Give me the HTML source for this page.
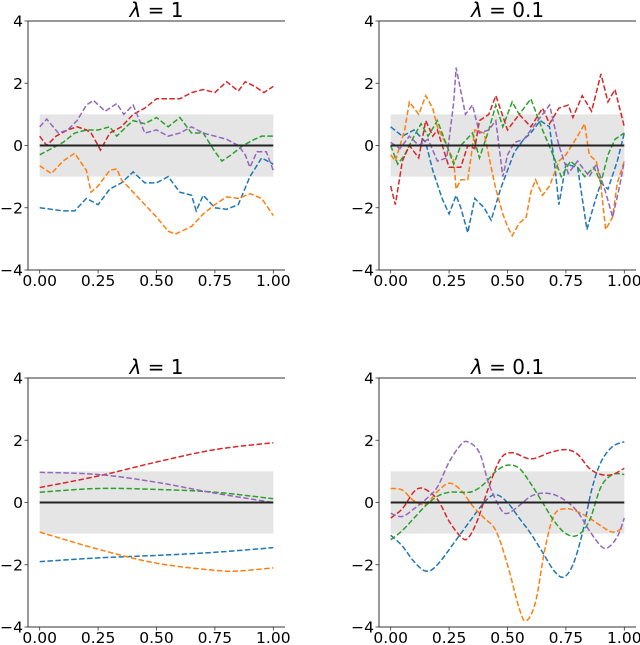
<!DOCTYPE html>
<html><head><meta charset="utf-8"><style>
body{margin:0;background:#fff;}
svg{display:block;font-family:"DejaVu Sans","Liberation Sans",sans-serif;}
</style></head><body>
<svg id="fig" width="640" height="645" viewBox="0 0 640 645" xmlns="http://www.w3.org/2000/svg"></svg>
<script>
// ---- data ----
const colors = ["#1f77b4","#ff7f0e","#2ca02c","#d62728","#9467bd"];
const seriesNames = ["blue","orange","green","red","purple"];
const yTicks = [-4,-2,0,2,4];
const yTickLabels = ["\u22124","\u22122","0","2","4"];
const xTicks = [0,0.25,0.5,0.75,1];
const xTickLabels = ["0.00","0.25","0.50","0.75","1.00"];
const titleValues = ["1","0.1","1","0.1"];

// panel 1 (rough, lambda=1): [t, value] pairs
const p1Blue = [[0,-2],[0.05,-2.05],[0.1,-2.1],[0.15,-2.1],[0.2,-1.7],[0.25,-1.9],[0.3,-1.4],[0.35,-1.2],[0.4,-0.85],[0.45,-1.2],[0.5,-1.2],[0.55,-1.0],[0.6,-1.5],[0.65,-1.6],[0.67,-2.1],[0.7,-1.6],[0.75,-2.0],[0.8,-2.05],[0.85,-1.9],[0.9,-1.0],[0.95,-0.4],[1,-0.6]];
const p1Orange = [[0,-0.65],[0.05,-0.9],[0.1,-0.5],[0.15,-0.25],[0.2,-0.8],[0.22,-1.5],[0.25,-1.3],[0.3,-0.8],[0.33,-0.75],[0.35,-1.1],[0.4,-1.5],[0.45,-1.9],[0.5,-2.3],[0.55,-2.75],[0.58,-2.85],[0.65,-2.6],[0.7,-2.2],[0.75,-1.9],[0.8,-1.65],[0.85,-1.7],[0.9,-1.55],[0.95,-1.7],[1,-2.25]];
const p1Green = [[0,-0.3],[0.05,-0.1],[0.1,0.1],[0.15,0.4],[0.2,0.5],[0.25,0.5],[0.3,0.6],[0.33,0.3],[0.37,0.6],[0.4,0.8],[0.45,0.7],[0.5,0.9],[0.55,0.6],[0.6,0.9],[0.65,0.4],[0.7,0.4],[0.75,-0.2],[0.78,-0.5],[0.82,-0.3],[0.87,0.0],[0.92,0.2],[0.95,0.3],[1,0.3]];
const p1Red = [[0,0.3],[0.03,0.0],[0.07,0.3],[0.12,0.5],[0.16,0.6],[0.2,0.5],[0.22,0.4],[0.25,0.0],[0.26,-0.15],[0.3,0.4],[0.35,0.6],[0.4,1.0],[0.45,1.2],[0.5,1.5],[0.55,1.5],[0.6,1.5],[0.65,1.7],[0.7,1.8],[0.75,1.7],[0.8,2.05],[0.85,1.75],[0.88,2.05],[0.92,1.9],[0.96,1.7],[1,1.9]];
const p1Purple = [[0,0.6],[0.03,0.85],[0.08,0.4],[0.12,0.5],[0.16,0.8],[0.2,1.3],[0.23,1.45],[0.28,1.1],[0.33,1.35],[0.36,1.0],[0.4,1.3],[0.45,0.4],[0.5,0.5],[0.55,0.3],[0.6,0.4],[0.65,0.6],[0.7,0.4],[0.75,0.3],[0.8,0.2],[0.85,0.0],[0.88,-0.3],[0.9,-0.7],[0.93,-0.2],[0.97,-0.2],[1,-0.8]];

// panel 2 (rough, lambda=0.1)
const p2Blue = [[0,0.6],[0.05,0.3],[0.1,0.5],[0.15,0.1],[0.18,-0.8],[0.22,-1.7],[0.25,-2.2],[0.28,-1.6],[0.3,-2.0],[0.33,-2.8],[0.36,-1.7],[0.4,-2.0],[0.43,-2.4],[0.47,-1.4],[0.5,-0.8],[0.53,-0.2],[0.57,0.2],[0.6,0.4],[0.64,0.8],[0.68,0.6],[0.7,-0.5],[0.72,-1.9],[0.75,-0.6],[0.8,-0.7],[0.84,-2.7],[0.87,-1.9],[0.9,-1.2],[0.93,-1.4],[0.97,-0.5],[1,0.4]];
const p2Orange = [[0,-0.3],[0.02,-0.5],[0.06,0.5],[0.08,1.4],[0.12,1.0],[0.15,1.6],[0.18,1.2],[0.2,0.6],[0.24,0.0],[0.27,-0.5],[0.28,-1.4],[0.3,-1.1],[0.33,-1.1],[0.36,0.5],[0.4,0.4],[0.43,-0.7],[0.45,-1.4],[0.48,-2.2],[0.5,-2.6],[0.52,-2.9],[0.55,-2.5],[0.58,-2.3],[0.6,-1.5],[0.62,-1.1],[0.65,-1.6],[0.68,-1.3],[0.72,-0.5],[0.75,-0.3],[0.8,0.3],[0.83,0.7],[0.85,-0.3],[0.88,-0.5],[0.9,-1.3],[0.92,-2.7],[0.95,-2.3],[0.97,-1.2],[1,-0.5]];
const p2Green = [[0,0.0],[0.03,-0.6],[0.06,-0.3],[0.1,0.3],[0.13,0.7],[0.16,0.3],[0.2,0.8],[0.24,0.0],[0.27,-0.6],[0.3,0.0],[0.35,0.4],[0.38,-0.4],[0.42,0.5],[0.45,1.3],[0.48,0.6],[0.52,1.4],[0.55,1.0],[0.6,1.5],[0.65,0.5],[0.7,-0.4],[0.73,-1.0],[0.77,-0.5],[0.8,-0.7],[0.83,-1.0],[0.87,-0.7],[0.9,-1.2],[0.93,-0.3],[0.96,0.2],[1,0.4]];
const p2Red = [[0,-1.3],[0.02,-1.9],[0.05,-0.5],[0.08,0.0],[0.12,-0.4],[0.15,0.8],[0.18,0.3],[0.2,0.5],[0.25,-0.7],[0.3,-0.7],[0.33,0.0],[0.36,-0.1],[0.38,0.8],[0.42,1.0],[0.45,1.6],[0.5,0.5],[0.55,1.0],[0.6,0.6],[0.65,1.2],[0.68,0.7],[0.72,1.2],[0.76,1.3],[0.78,0.9],[0.82,1.6],[0.86,1.1],[0.9,2.3],[0.93,1.4],[0.96,1.8],[1,0.6]];
const p2Purple = [[0,0.1],[0.04,-0.1],[0.08,0.3],[0.12,0.0],[0.16,0.2],[0.2,-0.5],[0.24,-0.4],[0.27,1.4],[0.28,2.5],[0.32,1.0],[0.35,1.3],[0.38,0.4],[0.42,0.5],[0.45,0.8],[0.48,-1.0],[0.5,-0.3],[0.53,0.1],[0.57,0.2],[0.62,0.7],[0.68,1.3],[0.72,0.0],[0.76,-0.9],[0.8,-0.5],[0.85,-1.0],[0.88,-0.6],[0.92,-1.5],[0.95,-2.3],[0.98,-1.3],[1,-0.5]];

// panel 3 (smooth, lambda=1)
const p3Blue = [[0,-1.9],[0.25,-1.78],[0.5,-1.7],[0.75,-1.6],[1,-1.45]];
const p3Orange = [[0,-0.95],[0.25,-1.5],[0.5,-1.95],[0.75,-2.18],[0.85,-2.2],[1,-2.1]];
const p3Green = [[0,0.33],[0.25,0.45],[0.5,0.42],[0.75,0.33],[1,0.12]];
const p3Red = [[0,0.48],[0.25,0.85],[0.5,1.3],[0.75,1.7],[1,1.92]];
const p3Purple = [[0,0.97],[0.25,0.9],[0.5,0.65],[0.75,0.3],[1,0.0]];

// panel 4 (smooth, lambda=0.1)
const p4Blue = [[0,-1.05],[0.05,-1.4],[0.1,-1.9],[0.15,-2.2],[0.2,-2.0],[0.3,-1.0],[0.4,0.0],[0.45,0.25],[0.5,0.0],[0.55,-0.5],[0.6,-1.0],[0.65,-1.6],[0.7,-2.2],[0.74,-2.4],[0.78,-2.0],[0.82,-1.0],[0.86,0.4],[0.9,1.3],[0.95,1.8],[1,1.95]];
const p4Orange = [[0,0.45],[0.05,0.4],[0.1,0.05],[0.15,-0.05],[0.2,0.35],[0.25,0.62],[0.3,0.4],[0.35,-0.1],[0.4,-0.5],[0.45,-0.9],[0.5,-2.0],[0.55,-3.4],[0.58,-3.8],[0.62,-3.2],[0.66,-1.5],[0.7,-0.4],[0.75,-0.2],[0.8,-0.3],[0.85,-0.5],[0.9,-0.75],[0.95,-0.95],[1,-0.8]];
const p4Green = [[0,-1.2],[0.05,-0.9],[0.1,-0.5],[0.15,-0.1],[0.2,0.2],[0.25,0.33],[0.3,0.33],[0.35,0.35],[0.4,0.6],[0.45,1.0],[0.5,1.2],[0.55,1.1],[0.6,0.6],[0.65,0.0],[0.7,-0.6],[0.75,-1.0],[0.8,-1.05],[0.85,-0.6],[0.9,0.5],[0.95,0.9],[1,0.9]];
const p4Red = [[0,-0.5],[0.05,-0.2],[0.1,0.35],[0.14,0.45],[0.2,0.1],[0.25,-0.6],[0.3,-1.1],[0.33,-1.15],[0.37,-0.6],[0.42,0.5],[0.47,1.4],[0.52,1.6],[0.6,1.4],[0.68,1.6],[0.75,1.7],[0.8,1.55],[0.85,1.1],[0.9,0.9],[0.95,0.9],[1,1.1]];
const p4Purple = [[0,-0.35],[0.05,-0.45],[0.1,-0.2],[0.15,0.1],[0.2,0.5],[0.25,1.3],[0.3,1.85],[0.33,1.95],[0.38,1.6],[0.42,0.6],[0.47,-0.2],[0.5,-0.35],[0.55,-0.1],[0.6,0.2],[0.65,0.3],[0.7,0.25],[0.75,0.05],[0.8,-0.3],[0.85,-0.9],[0.9,-1.4],[0.93,-1.45],[0.97,-1.1],[1,-0.5]];

const panelSeries = [
  [p1Blue,p1Orange,p1Green,p1Red,p1Purple],
  [p2Blue,p2Orange,p2Green,p2Red,p2Purple],
  [p3Blue,p3Orange,p3Green,p3Red,p3Purple],
  [p4Blue,p4Orange,p4Green,p4Red,p4Purple]
];
const smoothFlags = [false,false,true,true];

// ---- layout ----
const panels = [
  {left:28, top:21, right:285, bottom:270},
  {left:379, top:21, right:636, bottom:270},
  {left:28, top:378, right:285, bottom:627},
  {left:379, top:378, right:636, bottom:627}
];
const NS = "http://www.w3.org/2000/svg";
const svg = document.getElementById("fig");
function mk(tag, attrs, parent){
  const e = document.createElementNS(NS, tag);
  for (const k in attrs) e.setAttribute(k, attrs[k]);
  (parent||svg).appendChild(e);
  return e;
}
function catmull(pts){
  let d = "M"+pts[0][0].toFixed(2)+","+pts[0][1].toFixed(2);
  for (let i=0;i<pts.length-1;i++){
    const p0=pts[Math.max(i-1,0)], p1=pts[i], p2=pts[i+1], p3=pts[Math.min(i+2,pts.length-1)];
    const c1=[p1[0]+(p2[0]-p0[0])/6, p1[1]+(p2[1]-p0[1])/6];
    const c2=[p2[0]-(p3[0]-p1[0])/6, p2[1]-(p3[1]-p1[1])/6];
    d += " C"+c1[0].toFixed(2)+","+c1[1].toFixed(2)+" "+c2[0].toFixed(2)+","+c2[1].toFixed(2)+" "+p2[0].toFixed(2)+","+p2[1].toFixed(2);
  }
  return d;
}

panels.forEach((P, pi) => {
  const g = mk("g", {});
  
  
  const w = P.right - P.left;
  const x0 = P.left + w*0.05/1.1;
  const xs = w/1.1;
  const xScale = t => x0 + t*xs;
  const yScale = v => P.top + (4 - v)*(P.bottom - P.top)/8;

  const band = mk("rect", {x:xScale(0), y:yScale(1), width:xScale(1)-xScale(0), height:yScale(-1)-yScale(1), fill:"#e5e5e5"}, g);
  
  

  panelSeries[pi].forEach((data, si) => {
    const pts = data.map(d => [xScale(d[0]), yScale(d[1])]);
    const d = smoothFlags[pi] ? catmull(pts) : "M" + pts.map(p => p[0].toFixed(2)+","+p[1].toFixed(2)).join(" L");
    const path = mk("path", {d:d, fill:"none", stroke:colors[si], "stroke-width":1.5, "stroke-dasharray":"5.5,2.4"}, g);
    
    
  });

  const zl = mk("line", {x1:xScale(0), x2:xScale(1), y1:yScale(0), y2:yScale(0), stroke:"#222", "stroke-width":2}, g);
  
  

  const sp = mk("path", {d:`M${P.right},${P.top} L${P.left},${P.top} L${P.left},${P.bottom} L${P.right},${P.bottom}`, fill:"none", stroke:"#333", "stroke-width":1}, g);
  
  

  yTicks.forEach((v, i) => {
    const y = yScale(v);
    mk("line", {x1:P.left-3.5, x2:P.left, y1:y, y2:y, stroke:"#333", "stroke-width":0.8}, g);
    const t = mk("text", {x:P.left-5, y:y+5.5, "text-anchor":"end", "font-size":15.5, fill:"#000"}, g);
    t.textContent = yTickLabels[i];
    
    
  });
  xTicks.forEach((v, i) => {
    const x = xScale(v);
    mk("line", {x1:x, x2:x, y1:P.bottom, y2:P.bottom+3.5, stroke:"#333", "stroke-width":0.8}, g);
    const t = mk("text", {x:x, y:P.bottom+16, "text-anchor":"middle", "font-size":15.5, fill:"#000"}, g);
    t.textContent = xTickLabels[i];
    
    
  });
  const tt = mk("text", {x:(P.left+P.right)/2, y:P.top-4, "text-anchor":"middle", "font-size":20, fill:"#000"}, g);
  const lam = mk("tspan", {"font-style":"italic"}, tt);
  lam.textContent = "\u03bb";
  const rest = mk("tspan", {}, tt);
  rest.textContent = " = " + titleValues[pi];
  
  
});
</script>
</body></html>
